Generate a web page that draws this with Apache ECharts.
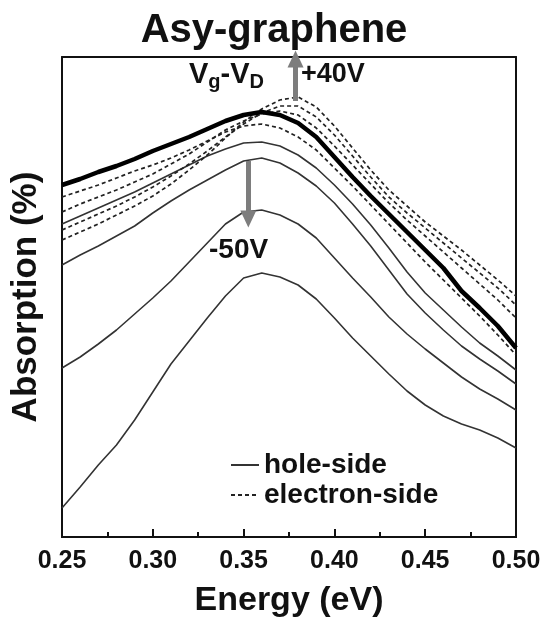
<!DOCTYPE html>
<html>
<head>
<meta charset="utf-8">
<script src="https://cdn.jsdelivr.net/npm/echarts@6/dist/echarts.min.js"></script>
<style>
html,body{margin:0;padding:0;background:#fff;}
#chart{width:548px;height:630px;}
</style>
</head>
<body>
<div id="chart"></div>
<script>
// ---- data (arbitrary absorption units) ----
const energy = [0.25,0.26,0.27,0.28,0.29,0.30,0.31,0.32,0.33,0.34,0.35,0.36,0.37,0.38,0.39,0.40,0.41,0.42,0.43,0.44,0.45,0.46,0.47,0.48,0.49,0.50];

// thick black curve (near Dirac point)
const dirac = [35.2,35.8,36.5,37.1,37.8,38.6,39.3,40.0,40.8,41.6,42.2,42.5,42.2,41.4,40.0,38.0,36.0,34.1,32.3,30.5,28.7,26.9,24.6,22.9,21.1,18.9];

// hole-side (solid)
const holeLow  = [2.9,5.0,7.2,9.2,11.7,14.5,17.3,19.6,21.9,24.1,25.9,26.4,26.0,25.2,23.8,21.9,19.9,18.1,16.3,14.6,13.2,12.1,11.3,10.7,9.9,8.9];
const hole50   = [16.9,18.0,19.3,20.7,22.3,23.9,25.6,27.5,29.4,31.3,32.5,32.7,32.2,31.3,29.9,27.9,25.9,24.0,22.0,20.3,18.8,17.4,16.0,14.8,13.8,12.7];
const holeMid  = [27.2,28.2,29.1,30.1,31.1,32.4,33.6,34.7,35.7,36.7,37.6,37.9,37.4,36.4,35.1,33.4,31.3,29.1,26.7,24.3,22.4,20.7,19.1,17.8,16.6,15.3];
const holeHigh = [31.3,32.1,32.9,33.7,34.5,35.4,36.3,37.2,38.1,38.8,39.4,39.5,39.1,38.2,36.9,35.2,33.3,31.2,28.9,26.5,24.4,22.7,21.0,19.4,18.1,16.7];

// electron-side (dashed)
const elec10 = [34.0,34.6,35.2,35.9,36.6,37.2,37.9,38.7,39.6,40.5,41.1,41.3,40.9,40.0,38.7,36.9,35.1,33.2,31.3,29.4,27.5,25.7,23.9,22.1,20.2,18.2];
const elec20 = [32.5,33.3,34.0,34.7,35.5,36.3,37.3,38.3,39.5,40.7,41.6,42.3,42.6,42.2,40.9,39.1,37.2,35.3,33.4,31.7,30.1,28.5,26.9,25.3,23.7,21.9];
const elec30 = [30.7,31.5,32.3,33.1,34.0,35.0,36.1,37.3,38.6,40.0,41.3,42.4,43.1,43.1,42.0,40.2,38.1,36.0,34.0,32.4,30.9,29.4,27.9,26.4,24.9,23.2];
const elec40 = [29.7,30.5,31.3,32.2,33.1,34.1,35.3,36.7,38.2,39.9,41.5,42.8,43.7,44.0,43.0,41.1,38.9,36.7,34.7,33.1,31.5,30.1,28.7,27.2,25.7,24.1];

// arrow annotations in data coordinates
const arrowUp   = [[0.3786,43.6],[0.3786,47.8]];
const arrowDown = [[0.3526,37.6],[0.3526,31.8]];

const FONT = '"Liberation Sans", Arial, sans-serif';
const pair = arr => energy.map((e,i)=>[e,arr[i]]);

function holeSeries(arr){
  return {name:'hole-side',type:'line',data:pair(arr),showSymbol:false,symbol:'none',
    itemStyle:{color:'#333'},
    lineStyle:{color:'#333',width:1.6,type:'solid'},z:2,silent:true};
}
function elecSeries(arr){
  return {name:'electron-side',type:'line',data:pair(arr),showSymbol:false,symbol:'none',
    itemStyle:{color:'#222'},
    lineStyle:{color:'#222',width:1.7,type:[4,3]},z:3,silent:true};
}

const axisLineStyle = {color:'#111',width:2};
const gridBox = {left:62,right:32,top:57,bottom:93};
const chart = echarts.init(document.getElementById('chart'),null,{renderer:'canvas'});
const option = {
  animation:false,
  backgroundColor:'#fff',
  title:{text:'Asy-graphene',left:'center',top:6,
    textStyle:{fontFamily:FONT,fontSize:40,fontWeight:'bold',color:'#111'}},
  grid:[Object.assign({},gridBox),Object.assign({},gridBox)],
  legend:{data:['hole-side','electron-side'],orient:'vertical',left:225,top:446,
    itemWidth:28,itemHeight:12,itemGap:2,
    itemStyle:{opacity:0},
    textStyle:{fontFamily:FONT,fontSize:28,fontWeight:'bold',color:'#111'}},
  xAxis:[{gridIndex:0,type:'value',min:0.25,max:0.5,interval:0.05,position:'bottom',
    name:'Energy (eV)',nameLocation:'middle',nameGap:47,
    nameTextStyle:{fontFamily:FONT,fontSize:34,fontWeight:'bold',color:'#111'},
    axisLine:{show:true,onZero:false,lineStyle:axisLineStyle},
    axisTick:{show:false},
    splitLine:{show:false},
    axisLabel:{show:true,margin:12,fontFamily:FONT,fontSize:25,fontWeight:'bold',color:'#111',
      formatter:function(v){return v.toFixed(2);}}},
   {gridIndex:0,type:'value',min:0.25,max:0.5,interval:0.05,position:'top',
    axisLine:{show:true,onZero:false,lineStyle:axisLineStyle},
    axisTick:{show:false},axisLabel:{show:false},splitLine:{show:false}},
   {gridIndex:1,type:'value',min:0.25,max:0.5,interval:0.05,position:'bottom',
    axisLine:{show:true,onZero:false,lineStyle:axisLineStyle},
    axisTick:{show:true,inside:true,length:8,lineStyle:{color:'#111',width:2}},
    minorTick:{show:true,splitNumber:2,length:5,lineStyle:{color:'#111',width:2}},
    axisLabel:{show:false},splitLine:{show:false}}],
  yAxis:[{gridIndex:0,type:'value',min:0,max:48,position:'left',
    name:'Absorption (%)',nameLocation:'middle',nameGap:18,
    nameTextStyle:{fontFamily:FONT,fontSize:35,fontWeight:'bold',color:'#111'},
    axisLine:{show:true,onZero:false,lineStyle:axisLineStyle},
    axisTick:{show:false},axisLabel:{show:false},splitLine:{show:false}},
   {gridIndex:0,type:'value',min:0,max:48,position:'right',
    axisLine:{show:true,onZero:false,lineStyle:axisLineStyle},
    axisTick:{show:false},axisLabel:{show:false},splitLine:{show:false}},
   {gridIndex:1,type:'value',min:0,max:48,position:'left',
    axisLine:{show:false},axisTick:{show:false},axisLabel:{show:false},splitLine:{show:false}}],
  series:[
    holeSeries(holeLow),holeSeries(hole50),holeSeries(holeMid),holeSeries(holeHigh),
    elecSeries(elec10),elecSeries(elec20),elecSeries(elec30),elecSeries(elec40),
    {name:'0V',type:'line',data:pair(dirac),showSymbol:false,symbol:'none',
      itemStyle:{color:'#000'},
      lineStyle:{color:'#000',width:4.5},z:4,silent:true,
      markLine:{silent:true,symbol:['none','triangle'],symbolSize:[16,17],
        label:{show:false},
        lineStyle:{color:'#7d7d7d',width:5,type:'solid'},
        data:[[{coord:arrowUp[0]},{coord:arrowUp[1]}],[{coord:arrowDown[0]},{coord:arrowDown[1]}]]}},
    {name:'ticks',type:'line',xAxisIndex:2,yAxisIndex:2,data:[],silent:true}
  ],
  graphic:[
    {type:'text',left:189,top:60,style:{text:'V{s|g}-V{s|D}',fontFamily:FONT,fontSize:29,fontWeight:'bold',fill:'#111',
      rich:{s:{fontFamily:FONT,fontSize:20,fontWeight:'bold',fill:'#111',padding:[15,0,0,0]}}}},
    {type:'text',left:301,top:61,style:{text:'+40V',fontFamily:FONT,fontSize:27,fontWeight:'bold',fill:'#111'}},
    {type:'text',left:209,top:236,style:{text:'-50V',fontFamily:FONT,fontSize:28,fontWeight:'bold',fill:'#111'}}
  ]
};
chart.setOption(option);
</script>
</body>
</html>
